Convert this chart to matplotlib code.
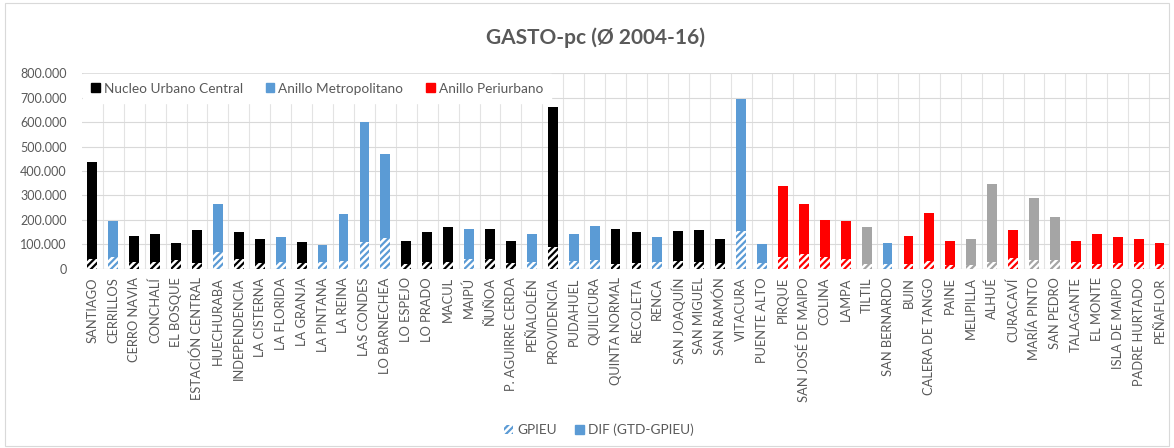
import matplotlib
matplotlib.use("Agg")
import matplotlib.pyplot as plt
from matplotlib.patches import Patch, Rectangle
from matplotlib.ticker import FuncFormatter, MultipleLocator

plt.rcParams['font.family'] = ['Lato', 'DejaVu Sans']
plt.rcParams['hatch.linewidth'] = 1.6

# comunas de la Región Metropolitana
comunas = ["SANTIAGO", "CERRILLOS", "CERRO NAVIA", "CONCHALÍ", "EL BOSQUE",
           "ESTACIÓN CENTRAL", "HUECHURABA", "INDEPENDENCIA", "LA CISTERNA",
           "LA FLORIDA", "LA GRANJA", "LA PINTANA", "LA REINA", "LAS CONDES",
           "LO BARNECHEA", "LO ESPEJO", "LO PRADO", "MACUL", "MAIPÚ", "ÑUÑOA",
           "P. AGUIRRE CERDA", "PEÑALOLÉN", "PROVIDENCIA", "PUDAHUEL",
           "QUILICURA", "QUINTA NORMAL", "RECOLETA", "RENCA", "SAN JOAQUÍN",
           "SAN MIGUEL", "SAN RAMÓN", "VITACURA", "PUENTE ALTO", "PIRQUE",
           "SAN JOSÉ DE MAIPO", "COLINA", "LAMPA", "TILTIL", "SAN BERNARDO",
           "BUIN", "CALERA DE TANGO", "PAINE", "MELIPILLA", "ALHUÉ",
           "CURACAVÍ", "MARÍA PINTO", "SAN PEDRO", "TALAGANTE", "EL MONTE",
           "ISLA DE MAIPO", "PADRE HURTADO", "PEÑAFLOR"]

# N = Nucleo Urbano Central, M = Anillo Metropolitano, P = Anillo Periurbano, R = rural
grupo = ["N", "M", "N", "N", "N", "N", "M", "N", "N", "M", "N", "M", "M", "M",
         "M", "N", "N", "N", "M", "N", "N", "M", "N", "M", "M", "N", "N", "M",
         "N", "N", "N", "M", "M", "P", "P", "P", "P", "R", "M", "P", "P", "P",
         "R", "R", "P", "R", "R", "P", "P", "P", "P", "P"]

# gasto total per cápita (GTD) y gasto GPIEU, promedio 2004-16
gtd = [438000, 196000, 133000, 144000, 106000, 158000, 265000, 152000, 124000,
       129000, 110000, 99000, 226000, 599000, 468000, 113000, 152000, 173000,
       163000, 162000, 113000, 143000, 660000, 143000, 176000, 162000, 152000,
       132000, 156000, 158000, 124000, 694000, 102000, 339000, 265000, 201000,
       195000, 171000, 106000, 133000, 229000, 116000, 122000, 346000, 159000,
       288000, 212000, 113000, 143000, 132000, 124000, 107000]
gpieu = [41000, 50000, 28000, 28000, 36000, 25000, 68000, 41000, 25000, 28000,
         25000, 28000, 33000, 111000, 128000, 22000, 28000, 28000, 42000, 42000,
         25000, 30000, 91000, 32000, 38000, 22000, 25000, 30000, 33000, 30000,
         25000, 155000, 25000, 48000, 60000, 50000, 40000, 22000, 22000, 22000,
         33000, 18000, 15000, 30000, 45000, 35000, 35000, 28000, 22000, 25000,
         28000, 22000]

colores = {"N": "#000000", "M": "#5B9BD5", "P": "#FF0000", "R": "#A5A5A5"}
gris = "#595959"

dif = [t - g for t, g in zip(gtd, gpieu)]
col = [colores[g] for g in grupo]
x = range(len(comunas))

fig = plt.figure(figsize=(11.74, 4.48), dpi=100)
ax = fig.add_axes([0.0698, 0.3996, 0.9268, 0.4374])

# parte GPIEU rayada, diferencia encima en color sólido
ax.bar(x, gpieu, width=0.47, color="white", edgecolor=col, hatch="/////",
       linewidth=0, zorder=3)
ax.bar(x, dif, bottom=gpieu, width=0.47, color=col, linewidth=0, zorder=3)

ax.set_xlim(-0.5, len(comunas) - 0.5)
ax.set_ylim(0, 800000)
ax.yaxis.set_major_locator(MultipleLocator(100000))
ax.yaxis.set_major_formatter(FuncFormatter(lambda v, p: f"{int(v):,}".replace(",", ".")))
ax.set_xticks(list(x))
ax.set_xticklabels(comunas, rotation=90, fontsize=9.3, color=gris)
ax.set_xticks([i + 0.5 for i in x][:-1], minor=True)
ax.tick_params(axis="x", which="both", length=0, pad=6)
ax.tick_params(axis="y", length=0, labelsize=9, labelcolor=gris, pad=11)
ax.grid(axis="y", color="#D9D9D9", linewidth=0.8, zorder=0)
ax.grid(axis="x", which="minor", color="#E3E3E3", linewidth=0.8, zorder=0)
for s in ax.spines.values():
    s.set_visible(False)
ax.axhline(0, color="#D9D9D9", linewidth=0.8, zorder=1)

fig.text(0.507, 0.915, "GASTO-pc (Ø 2004-16)", ha="center", va="center",
         fontsize=15, fontweight="bold", color=gris)

grupos = [Patch(color=colores["N"], label="Nucleo Urbano Central"),
          Patch(color=colores["M"], label="Anillo Metropolitano"),
          Patch(color=colores["P"], label="Anillo Periurbano")]
leg = ax.legend(handles=grupos, loc="upper left", ncol=3, fontsize=9.8,
                frameon=True, fancybox=False, framealpha=1, edgecolor="white",
                handlelength=0.6, handleheight=0.6, handletextpad=0.3,
                columnspacing=1.7, borderaxespad=0.1, borderpad=0.6,
                labelcolor=gris)
leg.set_zorder(5)

series = [Patch(facecolor="white", edgecolor="#5B9BD5", hatch="/////",
                linewidth=0, label="GPIEU"),
          Patch(color="#5B9BD5", label="DIF (GTD-GPIEU)")]
fig.legend(handles=series, loc="center", bbox_to_anchor=(0.51, 0.04), ncol=2,
           frameon=False, fontsize=9.8, handlelength=0.7, handleheight=0.7,
           handletextpad=0.3, columnspacing=1.3, labelcolor=gris)

fig.patches.append(Rectangle((0.004, 0.004), 0.992, 0.99, transform=fig.transFigure,
                             fill=False, edgecolor="#D9D9D9", linewidth=0.8))

fig.savefig("out.png", dpi=100)
